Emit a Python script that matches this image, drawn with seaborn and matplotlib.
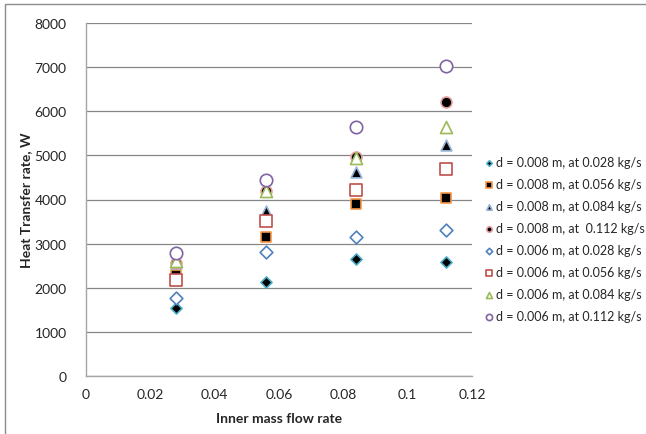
import pandas as pd
import seaborn as sns
import matplotlib.pyplot as plt
from matplotlib.patches import Rectangle

# inner mass flow rate (kg/s)
flow = [0.028, 0.056, 0.084, 0.112]

labels = [
    "d = 0.008 m, at 0.028 kg/s",
    "d = 0.008 m, at 0.056 kg/s",
    "d = 0.008 m, at 0.084 kg/s",
    "d = 0.008 m, at  0.112 kg/s",
    "d = 0.006 m, at 0.028 kg/s",
    "d = 0.006 m, at 0.056 kg/s",
    "d = 0.006 m, at 0.084 kg/s",
    "d = 0.006 m, at 0.112 kg/s",
]

# heat transfer rate (W), one list per series
q_008_028 = [1550, 2125, 2650, 2580]
q_008_056 = [2290, 3140, 3890, 4045]
q_008_084 = [2560, 3740, 4620, 5240]
q_008_112 = [2560, 4190, 4970, 6200]
q_006_028 = [1770, 2820, 3160, 3300]
q_006_056 = [2180, 3510, 4220, 4700]
q_006_084 = [2600, 4200, 4940, 5640]
q_006_112 = [2780, 4450, 5640, 7030]

series = [q_008_028, q_008_056, q_008_084, q_008_112,
          q_006_028, q_006_056, q_006_084, q_006_112]

# marker, face, edge, size
styles = [
    ("D", "black", "#4BACC6", 32),
    ("s", "black", "#F79646", 60),
    ("^", "black", "#95B3D7", 60),
    ("o", "black", "#E6A0A0", 62),
    ("D", "white", "#4F81BD", 42),
    ("s", "white", "#C0504D", 70),
    ("^", "white", "#9BBB59", 75),
    ("o", "white", "#8064A2", 80),
]

rows = []
for lab, vals in zip(labels, series):
    for x, y in zip(flow, vals):
        rows.append({"flow": x, "q": y, "series": lab})
df = pd.DataFrame(rows)

sns.set_style("white")
plt.rcParams['font.family'] = ['Lato', 'DejaVu Sans']

fig = plt.figure(figsize=(6.46, 4.35), dpi=100)
W, H = 646, 435
ax = fig.add_axes([86 / W, (H - 377) / H, (472 - 86) / W, (377 - 24) / H])

for lab, (mk, fc, ec, sz) in zip(labels, styles):
    sub = df[df["series"] == lab]
    sns.scatterplot(data=sub, x="flow", y="q", ax=ax, marker=mk, s=sz,
                    color=fc, edgecolor=ec, linewidth=1.2, label=lab,
                    legend=False, zorder=3, clip_on=False)

ax.set_xlim(0, 0.12)
ax.set_ylim(0, 8000)
ax.set_xticks([0, 0.02, 0.04, 0.06, 0.08, 0.1, 0.12])
ax.set_xticklabels(["0", "0.02", "0.04", "0.06", "0.08", "0.1", "0.12"])
ax.set_yticks(range(0, 8001, 1000))
ax.yaxis.grid(True, color="#868686", linewidth=0.9)
ax.set_axisbelow(True)
for side in ["top", "right"]:
    ax.spines[side].set_visible(False)
for side in ["left", "bottom"]:
    ax.spines[side].set_color("#A6A6A6")
    ax.spines[side].set_linewidth(1.0)
ax.tick_params(length=0, labelsize=10, colors="#262626", pad=9)
ax.tick_params(axis="y", pad=14)

ax.set_xlabel("Inner mass flow rate", fontsize=10, fontweight="bold", labelpad=8)
ax.set_ylabel("Heat Transfer rate, W", fontsize=10, fontweight="bold", labelpad=2)

handles = ax.collections
leg = fig.legend(handles, labels, loc="upper left",
                 bbox_to_anchor=(480 / W, 1 - 152 / H), frameon=False,
                 fontsize=9, handlelength=0.6, handletextpad=0.3,
                 labelspacing=0.8, markerscale=0.5, borderaxespad=0)
for t in leg.get_texts():
    t.set_color("#262626")

# chart area border (cut at the right and bottom)
fig.add_artist(Rectangle((5 / W, -0.2), 1.2, 1.2 - 5 / H,
                         transform=fig.transFigure, fill=False,
                         edgecolor="#8C8C8C", linewidth=1.0))

fig.savefig("out.png", dpi=100)
